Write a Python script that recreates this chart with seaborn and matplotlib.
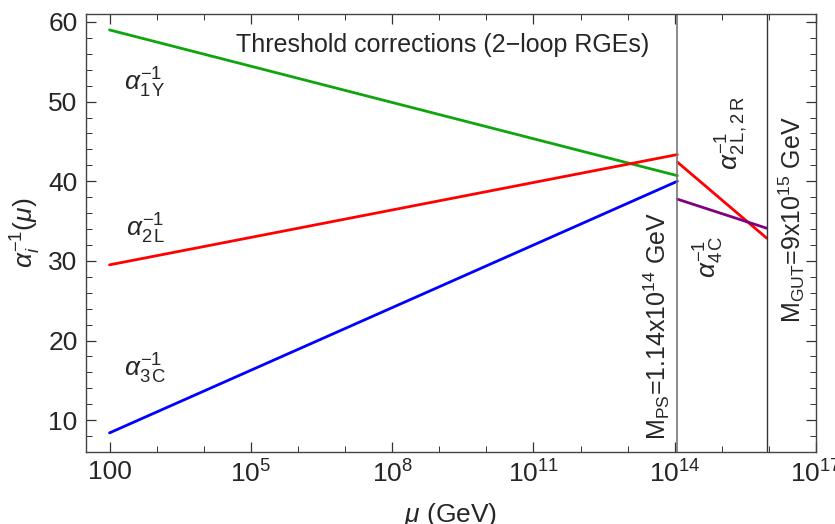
import numpy as np
import pandas as pd
import matplotlib
matplotlib.use("Agg")
import matplotlib.pyplot as plt
import seaborn as sns
from matplotlib.ticker import FixedLocator, FixedFormatter, MultipleLocator, NullFormatter

# ---- data ----
mu_low = [1e2, 1.14e14]
a1Y = [59.0, 40.7]
a2L = [29.5, 43.35]
a3C = [8.4, 40.0]
mu_high = [1.14e14, 9e15]
a2LR = [42.4, 32.85]
a4C = [37.75, 34.1]
M_PS = 1.14e14
M_GUT = 9e15
xtick_vals = [1e2, 1e5, 1e8, 1e11, 1e14, 1e17]
xtick_labels = ["100", r"$10^5$", r"$10^8$", r"$10^{11}$", r"$10^{14}$", r"$10^{17}$"]

series = [
    ("a1Y", mu_low, a1Y),
    ("a2L", mu_low, a2L),
    ("a3C", mu_low, a3C),
    ("a2LR", mu_high, a2LR),
    ("a4C", mu_high, a4C),
]
rows = []
for name, xs, ys in series:
    for x, y in zip(xs, ys):
        rows.append({"series": name, "mu": x, "alpha": y})
df = pd.DataFrame(rows)
palette = {"a1Y": "#0fa50f", "a2L": "#ff0000", "a3C": "#0000ff",
           "a2LR": "#ff0000", "a4C": "#800080"}

sns.set_style("ticks")
plt.rcParams["font.family"] = ["Liberation Sans", "DejaVu Sans"]
plt.rcParams["mathtext.fontset"] = "custom"
plt.rcParams["mathtext.rm"] = "Liberation Sans"
plt.rcParams["mathtext.it"] = "Liberation Sans:italic"

fig = plt.figure(figsize=(8.35, 5.24), dpi=100)
ax = fig.add_axes([86/835, 1 - 452/524, (816-86)/835, (452-14)/524])

sns.lineplot(data=df, x="mu", y="alpha", hue="series", palette=palette,
             units="series", estimator=None, lw=2.0, legend=False, ax=ax)

ax.axvline(M_PS, color="#777777", lw=1.2)
ax.axvline(M_GUT, color="#333333", lw=1.0)

ax.set_xscale("log")
ax.set_xlim(10**1.5, 1e17)
ax.set_ylim(6, 61)

ax.xaxis.set_major_locator(FixedLocator(xtick_vals))
ax.xaxis.set_major_formatter(FixedFormatter(xtick_labels))
ax.xaxis.set_minor_locator(FixedLocator([10.0**k for k in range(2, 18) if k % 3 != 2]))
ax.xaxis.set_minor_formatter(NullFormatter())
ax.yaxis.set_major_locator(MultipleLocator(10))
ax.yaxis.set_minor_locator(MultipleLocator(2))

ax.tick_params(which="both", direction="in", top=True, right=True,
               labeltop=False, labelright=False, color="#333333")
ax.tick_params(which="major", length=7, width=0.9, labelsize=19, pad=6)
ax.tick_params(which="minor", length=4, width=0.7)
for s in ax.spines.values():
    s.set_color("#444444")
    s.set_linewidth(1.0)

ax.set_xlabel(r"$\mu$ (GeV)", fontsize=19, labelpad=10)
ax.set_ylabel(r"$\alpha_i^{-1}(\mu)$", fontsize=19, labelpad=4)

fs = 19
ax.text(10**9.07, 57.1, "Threshold corrections (2\u2212loop RGEs)", fontsize=18,
        ha="center", va="center")
ax.text(10**2.76, 52.3, r"$\alpha^{-1}_{1\,\mathrm{Y}}$", fontsize=fs, ha="center", va="center")
ax.text(10**2.76, 34.0, r"$\alpha^{-1}_{2\,\mathrm{L}}$", fontsize=fs, ha="center", va="center")
ax.text(10**2.76, 16.4, r"$\alpha^{-1}_{3\,\mathrm{C}}$", fontsize=fs, ha="center", va="center")
ax.text(10**13.62, 7.5, r"M$_\mathrm{PS}$=1.14x10$^{14}$ GeV", fontsize=18,
        rotation=90, ha="center", va="bottom")
ax.text(10**14.72, 30.5, r"$\alpha^{-1}_{4\,\mathrm{C}}$", fontsize=fs,
        rotation=90, ha="center", va="center")
ax.text(10**15.21, 46.0, r"$\alpha^{-1}_{2\,\mathrm{L,2\,R}}$", fontsize=fs,
        rotation=90, ha="center", va="center")
ax.text(10**16.48, 35.2, r"M$_\mathrm{GUT}$=9x10$^{15}$ GeV", fontsize=18,
        rotation=90, ha="center", va="center")

fig.savefig("out.png", dpi=100)
